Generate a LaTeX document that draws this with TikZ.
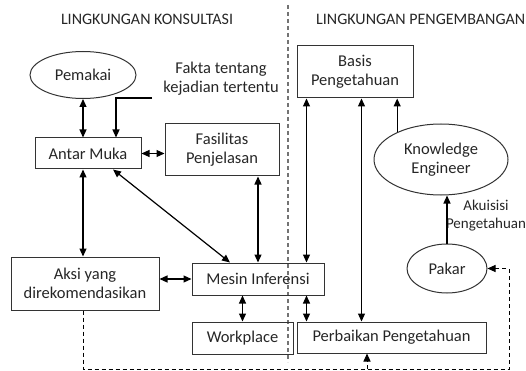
\documentclass[tikz,border=0pt]{standalone}
\usepackage{fontspec}
\setmainfont{Carlito}
\usepackage{tikz}
\usetikzlibrary{arrows.meta,positioning,calc,shapes.geometric}

\begin{document}
\begin{tikzpicture}[
  x=1pt, y=-1pt,
  >={Triangle[length=8pt,width=7pt]},
  txt/.style={font=\fontsize{16.5}{19}\selectfont, align=center, inner sep=0pt, text=black!85},
  box/.style={txt, rectangle, draw=black!80, line width=1pt},
  oval/.style={txt, ellipse, draw=black!80, line width=1pt},
  arr/.style={->, line width=1.2pt},
  dbl/.style={<->, line width=1.2pt},
  fb/.style={->, dash pattern=on 4pt off 3pt, line width=1pt},
  sep/.style={black!55, dash pattern=on 4pt off 3pt, line width=1.4pt}
]
\useasboundingbox (0,0) rectangle (526,371);
\clip (0,0) rectangle (526,371);

% headings and separator
\node[txt, font=\fontsize{16}{19}\selectfont] (h1) at (147,19) {LINGKUNGAN KONSULTASI};
\node[txt, font=\fontsize{16}{19}\selectfont, anchor=west] (h2) at (316,19) {LINGKUNGAN PENGEMBANGAN};
\draw[sep] (288,5) -- (288,362);

% consultation side
\node[oval, minimum width=106pt, minimum height=47pt] (pm) at (83,75) {Pemakai};
\node[txt] (fk) at (221,79) {Fakta tentang\\kejadian tertentu};
\node[box, minimum width=106pt, minimum height=31pt] (am) at (88,153.5) {Antar Muka};
\node[box, minimum width=114pt, minimum height=52pt] (fs) at (222,150) {Fasilitas\\Penjelasan};
\node[box, minimum width=148pt, minimum height=53pt] (ax) at (85,283.5) {Aksi yang\\direkomendasikan};
\node[box, minimum width=132pt, minimum height=32pt] (me) at (258,279) {Mesin Inferensi};
\node[box, minimum width=101pt, minimum height=32pt] (wp) at (242.5,338) {Workplace};

% development side
\node[box, minimum width=116pt, minimum height=52pt] (bs) at (355,72) {Basis\\Pengetahuan};
\node[oval, minimum width=134pt, minimum height=71pt] (ke) at (441,159.5) {Knowledge\\Engineer};
\node[oval, minimum width=80pt, minimum height=49pt] (pk) at (447,268.5) {Pakar};
\node[txt, font=\fontsize{15}{18}\selectfont] (aq) at (486,216) {Akuisisi\\Pengetahuan};
\node[box, minimum width=189pt, minimum height=31pt] (pb) at (391.5,337.5) {Perbaikan Pengetahuan};

\coordinate (fkl) at (152,98);
\coordinate (x1) at ([xshift=10pt]pb.north west);
\coordinate (x2) at ([xshift=65pt]bs.south west);
\coordinate (fbr) at (509,369);
\coordinate (fbm) at (367,369);

\draw[dbl] (pm.south) -- (pm.south |- am.north);
\draw[arr] (fkl) -| ([xshift=28pt]am.north);
\draw[dbl] (am.east) -- (am.east -| fs.west);
\draw[dbl] ([xshift=25pt]am.south) -- ([xshift=-28pt]me.north);
\draw[dbl] (am.south -| pm.south) -- (ax.north -| pm.south);
\draw[dbl] (fs.south -| me.north) -- (me.north);
\draw[dbl] (me.west -| ax.east) -- (me.west);
\draw[dbl] (me.south -| wp.north) -- (wp.north);
\draw[dbl] (me.south -| x1) -- (x1);
\draw[dbl] (bs.south -| x1) -- (me.north -| x1);
\draw[dbl] (x2) -- (pb.north -| x2);
\draw[arr] (ke.148) -- (ke.148 |- bs.south);
\draw[arr] (pk.north) -- (pk.north |- ke.south);

% feedback loop
\draw[fb] (ax.south -| pm.south) |- (fbr) |- (pk.east);
\draw[fb] (fbm) -- (fbm |- pb.south);
\end{tikzpicture}
\end{document}
